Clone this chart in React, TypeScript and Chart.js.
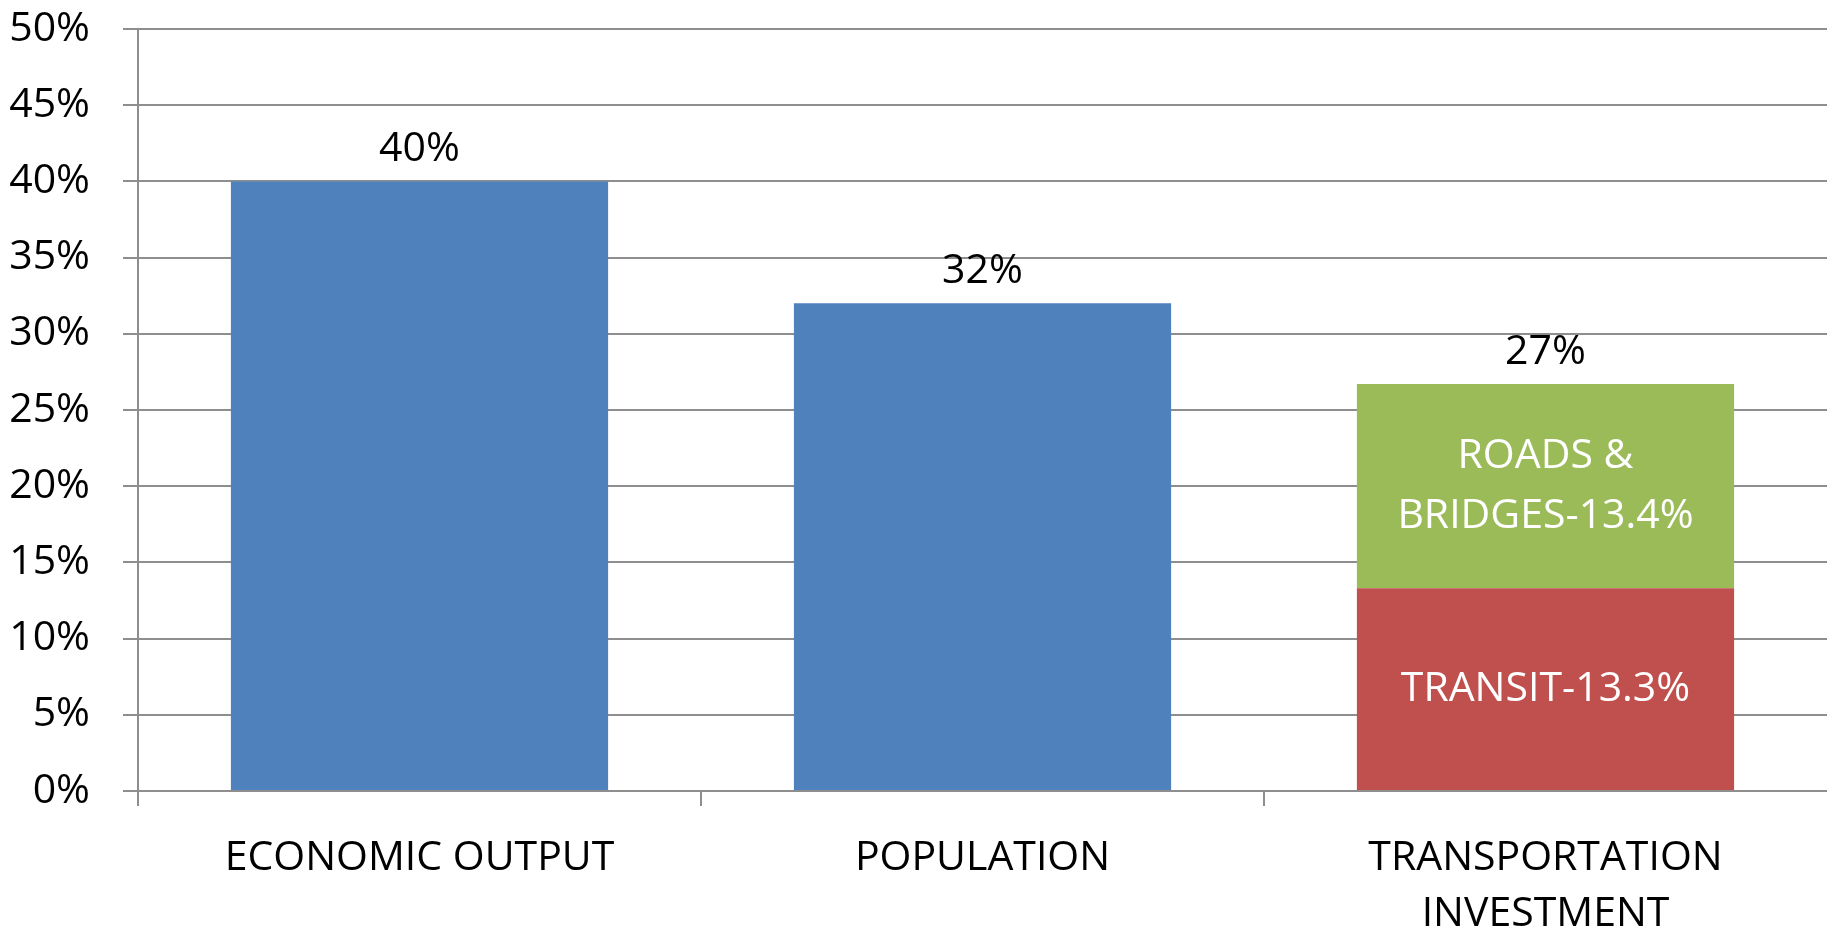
import React, { useEffect, useRef } from "react";
import { Chart, registerables } from "chart.js";

Chart.register(...registerables);

const categories: string[][] = [["ECONOMIC OUTPUT"], ["POPULATION"], ["TRANSPORTATION", "INVESTMENT"]];
const shareValues: (number | null)[] = [40, 32, null];
const transitValues: (number | null)[] = [null, null, 13.3];
const roadsValues: (number | null)[] = [null, null, 13.4];
const transitName = "TRANSIT";
const roadsNameLines = ["ROADS &", "BRIDGES"];
const yTicks = { min: 0, max: 50, step: 5 };

const FONT = "'Open Sans', 'Noto Sans', sans-serif";
const FONT_SIZE = 41;
const GRID = "#8e8e8e";

const labelPlugin = {
  id: "labelPlugin",
  afterDatasetsDraw(chart: any) {
    const ctx = chart.ctx;
    const xs = chart.scales.x;
    const ys = chart.scales.y;
    ctx.save();
    ctx.font = `${FONT_SIZE}px ${FONT}`;
    ctx.textAlign = "center";
    ctx.textBaseline = "middle";
    categories.forEach((_, i) => {
      let total = 0;
      chart.data.datasets.forEach((ds: any) => {
        const v = ds.data[i];
        if (typeof v === "number") total += v;
      });
      const px = xs.getPixelForValue(i);
      const py = ys.getPixelForValue(total) - 32;
      ctx.fillStyle = "#000000";
      ctx.fillText(`${Math.round(total)}%`, px, py);
    });
    chart.data.datasets.forEach((ds: any, d: number) => {
      const lines: string[] | undefined = ds.segmentLines;
      if (!lines) return;
      const meta = chart.getDatasetMeta(d);
      ds.data.forEach((v: any, i: number) => {
        if (typeof v !== "number") return;
        const el: any = meta.data[i];
        const cy = (el.y + el.base) / 2;
        const lh = 60;
        const start = cy - ((lines.length - 1) * lh) / 2;
        ctx.fillStyle = "#ffffff";
        lines.forEach((ln, k) => ctx.fillText(ln, el.x, start + k * lh));
      });
    });
    ctx.restore();
  },
};

export default function App() {
  const ref = useRef<HTMLCanvasElement | null>(null);
  useEffect(() => {
    if (!ref.current) return;
    const roadsLines = [...roadsNameLines];
    roadsLines[roadsLines.length - 1] = `${roadsLines[roadsLines.length - 1]}-${roadsValues[2]}%`;
    const zeroPad = (s: any) => {
      s.paddingTop = 0;
      s.paddingBottom = 0;
      s.paddingLeft = 0;
      s.paddingRight = 0;
    };
    const chart = new Chart(ref.current, {
      type: "bar",
      data: {
        labels: categories as any,
        datasets: [
          { label: "Share", data: shareValues, backgroundColor: "#4F81BD", barPercentage: 0.67, categoryPercentage: 1 } as any,
          { label: "Transit", data: transitValues, backgroundColor: "#C0504D", barPercentage: 0.67, categoryPercentage: 1, segmentLines: [`${transitName}-${transitValues[2]}%`] } as any,
          { label: "Roads & Bridges", data: roadsValues, backgroundColor: "#9BBB59", barPercentage: 0.67, categoryPercentage: 1, segmentLines: roadsLines } as any,
        ],
      },
      options: {
        animation: false,
        responsive: true,
        maintainAspectRatio: false,
        layout: { padding: { top: 29, left: 0, right: 0, bottom: 0 } },
        plugins: { legend: { display: false }, tooltip: { enabled: false } },
        scales: {
          x: {
            stacked: true,
            grid: {
              drawOnChartArea: false,
              drawTicks: true,
              tickLength: 15,
              color: (c: any) => (c.type === "tick" ? GRID : "rgba(0,0,0,0)"),
              lineWidth: 2,
            },
            border: { color: GRID, width: 2 },
            ticks: { color: "#000", font: { family: FONT, size: FONT_SIZE, lineHeight: 1.37 }, padding: 24, maxRotation: 0, autoSkip: false },
            afterFit: (s: any) => { s.height = 139; zeroPad(s); },
          },
          y: {
            stacked: true,
            min: yTicks.min,
            max: yTicks.max,
            ticks: { stepSize: yTicks.step, color: "#000", font: { family: FONT, size: FONT_SIZE }, padding: 33, callback: (v: any) => `${v}%` },
            grid: { color: GRID, lineWidth: 2, tickLength: 15 },
            border: { color: GRID, width: 2 },
            afterFit: (s: any) => { s.width = 138; zeroPad(s); },
          },
        },
      },
      plugins: [labelPlugin],
    });
    return () => chart.destroy();
  }, []);
  return (
    <div style={{ position: "fixed", left: 0, top: 0, width: 1827, height: 930, background: "#fff" }}>
      <canvas ref={ref} />
    </div>
  );
}
